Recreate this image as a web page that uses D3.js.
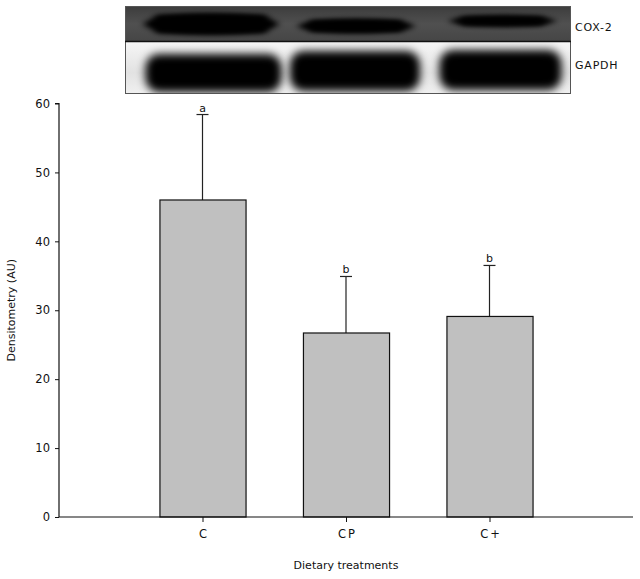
<!DOCTYPE html>
<html><head><meta charset="utf-8">
<script src="https://cdnjs.cloudflare.com/ajax/libs/d3/7.8.5/d3.min.js"></script>
<style>body{margin:0;background:#fff}svg{display:block}text{font-family:"DejaVu Sans",Verdana,sans-serif;fill:#111}</style>
</head><body><svg id="c" width="640" height="579"></svg>
<script>
const categories = ["C", "CP", "C+"];
const means = [46.0, 26.7, 29.1];
const errors = [12.4, 8.2, 7.4];
const letters = ["a", "b", "b"];
const yTicks = [0, 10, 20, 30, 40, 50, 60];
const blotLabels = ["COX-2", "GAPDH"];

(function () {
const svg = d3.select("#c");
const pLeft = 59, pRight = 633, pTop = 103.5, pBottom = 517;
const x = d3.scalePoint().domain(categories).range([pLeft, pRight]).padding(1);
const y = d3.scaleLinear().domain([0, 60]).range([pBottom, pTop]);
const bw = x.step() * 0.6;

// ---- blot (decorative image) ----
const defs = svg.append("defs");
defs.append("filter").attr("id", "b1").attr("x", "-30%").attr("y", "-80%").attr("width", "160%").attr("height", "260%")
  .append("feGaussianBlur").attr("stdDeviation", "3.5 2.5");
defs.append("filter").attr("id", "b2").attr("x", "-30%").attr("y", "-60%").attr("width", "160%").attr("height", "220%")
  .append("feGaussianBlur").attr("stdDeviation", "4 4");
const clipU = defs.append("clipPath").attr("id", "cu"); clipU.append("rect").attr("x", 125).attr("y", 6).attr("width", 446).attr("height", 35.5);
const clipL = defs.append("clipPath").attr("id", "cl"); clipL.append("rect").attr("x", 125).attr("y", 41.5).attr("width", 446).attr("height", 52);
const gU = defs.append("linearGradient").attr("id", "gu").attr("x1", 0).attr("y1", 0).attr("x2", 0).attr("y2", 1);
gU.append("stop").attr("offset", 0).attr("stop-color", "#3c3c3c");
gU.append("stop").attr("offset", 0.5).attr("stop-color", "#505050");
gU.append("stop").attr("offset", 1).attr("stop-color", "#454545");
const gL = defs.append("linearGradient").attr("id", "gl").attr("x1", 0).attr("y1", 0).attr("x2", 0).attr("y2", 1);
gL.append("stop").attr("offset", 0).attr("stop-color", "#f6f6f6");
gL.append("stop").attr("offset", 0.6).attr("stop-color", "#e2e2e2");
gL.append("stop").attr("offset", 1).attr("stop-color", "#f0f0f0");

const up = svg.append("g").attr("clip-path", "url(#cu)");
up.append("rect").attr("x", 125).attr("y", 6).attr("width", 446).attr("height", 36).attr("fill", "url(#gu)");
const upBands = [{dx: 8.5, w: 134, cy: 24, h: 21}, {dx: 10, w: 116, cy: 26, h: 14}, {dx: 13, w: 106, cy: 21, h: 11}];
up.selectAll("ellipse").data(upBands).join("ellipse")
  .attr("cx", (d, i) => x(categories[i]) + d.dx).attr("cy", d => d.cy)
  .attr("rx", d => d.w / 2).attr("ry", d => d.h / 2).attr("fill", "#000").attr("filter", "url(#b1)");
up.selectAll("rect.core").data(upBands).join("rect").attr("class", "core")
  .attr("x", (d, i) => x(categories[i]) + d.dx - d.w / 2 + 10).attr("y", d => d.cy - d.h / 2 + 1)
  .attr("width", d => d.w - 20).attr("height", d => d.h - 2).attr("rx", 5).attr("fill", "#000").attr("filter", "url(#b1)");

const lo = svg.append("g").attr("clip-path", "url(#cl)");
lo.append("rect").attr("x", 125).attr("y", 41.5).attr("width", 446).attr("height", 52).attr("fill", "url(#gl)");
const loBands = [{dx: 11, w: 136, cy: 73, h: 38}, {dx: 9, w: 130, cy: 71, h: 40}, {dx: 11, w: 122, cy: 70, h: 40}];
lo.selectAll("rect.core").data(loBands).join("rect").attr("class", "core")
  .attr("x", (d, i) => x(categories[i]) + d.dx - d.w / 2).attr("y", d => d.cy - d.h / 2)
  .attr("width", d => d.w).attr("height", d => d.h).attr("rx", 14).attr("fill", "#000").attr("filter", "url(#b2)");

svg.append("rect").attr("x", 125.5).attr("y", 6.5).attr("width", 445).attr("height", 87).attr("fill", "none").attr("stroke", "#555").attr("stroke-width", 1);
svg.append("line").attr("x1", 125).attr("x2", 571).attr("y1", 41.5).attr("y2", 41.5).attr("stroke", "#111").attr("stroke-width", 1.5);
svg.selectAll("text.bl").data(blotLabels).join("text").attr("class", "bl")
  .attr("x", 575).attr("y", (d, i) => i === 0 ? 31 : 69).attr("font-size", 11).attr("letter-spacing", 0.8).text(d => d);

// ---- bars ----
const g = svg.append("g");
g.selectAll("line.err").data(means).join("line").attr("class", "err")
  .attr("x1", (d, i) => x(categories[i])).attr("x2", (d, i) => x(categories[i]))
  .attr("y1", d => y(d)).attr("y2", (d, i) => y(d + errors[i])).attr("stroke", "#222").attr("stroke-width", 1.2);
g.selectAll("line.cap").data(means).join("line").attr("class", "cap")
  .attr("x1", (d, i) => x(categories[i]) - 6).attr("x2", (d, i) => x(categories[i]) + 6)
  .attr("y1", (d, i) => y(d + errors[i])).attr("y2", (d, i) => y(d + errors[i])).attr("stroke", "#222").attr("stroke-width", 1.2);
g.selectAll("rect.bar").data(means).join("rect").attr("class", "bar")
  .attr("x", (d, i) => x(categories[i]) - bw / 2 + 0.5).attr("width", bw)
  .attr("y", d => y(d)).attr("height", d => y(0) - y(d))
  .attr("fill", "#c0c0c0").attr("stroke", "#111").attr("stroke-width", 1.2);
g.selectAll("text.let").data(letters).join("text").attr("class", "let")
  .attr("x", (d, i) => x(categories[i])).attr("y", (d, i) => y(means[i] + errors[i]) - 3)
  .attr("text-anchor", "middle").attr("font-size", 11).text(d => d);

// ---- axes ----
const yAxis = g.append("g").attr("transform", `translate(${pLeft},0)`)
  .call(d3.axisLeft(y).tickValues(yTicks).tickSize(4).tickPadding(5));
const xAxis = g.append("g").attr("transform", `translate(0,${pBottom})`)
  .call(d3.axisBottom(x).tickSize(5).tickPadding(8));
[yAxis, xAxis].forEach(a => {
  a.select(".domain").attr("stroke", "#111").attr("stroke-width", 1.2);
  a.selectAll(".tick line").attr("stroke", "#111");
  a.selectAll(".tick text").attr("font-size", 11.5).attr("fill", "#111").style("font-family", '"DejaVu Sans",Verdana,sans-serif');
});
xAxis.selectAll(".tick text").attr("letter-spacing", 2).attr("dx", 1);
yAxis.select(".domain").attr("d", `M-4,${pTop}H0V${pBottom}`);
xAxis.select(".domain").attr("d", `M${pLeft},0H${pRight}`);

svg.append("text").attr("transform", `translate(15,${(pTop + pBottom) / 2}) rotate(-90)`)
  .attr("text-anchor", "middle").attr("font-size", 11).text("Densitometry (AU)");
svg.append("text").attr("x", (pLeft + pRight) / 2).attr("y", 569)
  .attr("text-anchor", "middle").attr("font-size", 11).text("Dietary treatments");
})();
</script></body></html>
